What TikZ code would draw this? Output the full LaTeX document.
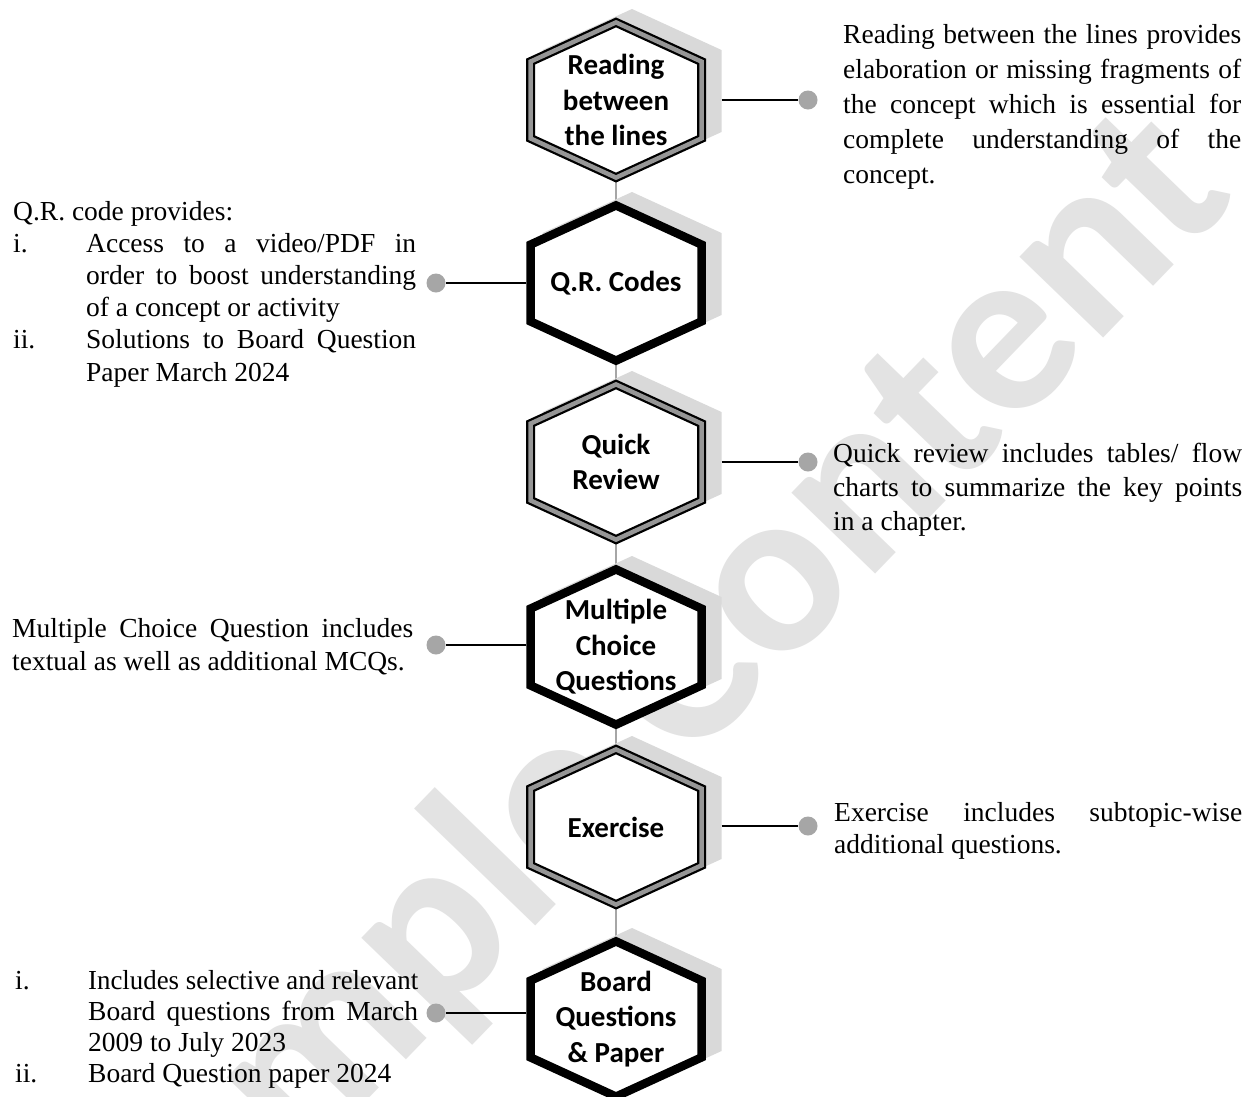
\documentclass[tikz,border=0pt]{standalone}
\usepackage{fontspec}
\usepackage{graphicx}
\setmainfont{Liberation Serif}
\newfontfamily\bodyfont{Liberation Serif}
\newfontfamily\labfont{Carlito}
\usetikzlibrary{calc}
\definecolor{shadowgray}{HTML}{D9D9D9}
\definecolor{wmgray}{HTML}{E3E3E3}
\definecolor{bandgray}{HTML}{969696}
\definecolor{dotgray}{HTML}{A6A6A6}
\newcommand\hexpath{(0,-77.6) -- (85.5,-38.4) -- (85.5,38.4) -- (0,77.6) -- (-85.5,38.4) -- (-85.5,-38.4) -- cycle}
\newcommand\hexouter{(0,-82) -- (89.5,-41) -- (89.5,41) -- (0,82) -- (-89.5,41) -- (-89.5,-41) -- cycle}
\newcommand\jl[1]{\makebox[\linewidth][s]{#1}}
\newcommand\lab[1]{\makebox[73pt][l]{#1}}
\tikzset{
  hexlabel/.style={minimum width=179pt, minimum height=164pt, inner sep=0pt, align=center,
    font={\labfont\bfseries\fontsize{29}{35.5}\selectfont}},
  hexshadow/.style={fill=shadowgray},
  hexthick/.style={draw=black, line width=8.5pt, fill=white},
  hexdblout/.style={draw=black, line width=9pt, fill=white},
  hexdblin/.style={draw=bandgray, line width=4.5pt},
  vline/.style={draw=dotgray, line width=2pt},
  hline/.style={draw=black, line width=2pt},
  dotnode/.style={circle, fill=dotgray, minimum size=19pt, inner sep=0pt},
  bodytext/.style={anchor=base west, inner sep=0pt},
  watermark/.style={text=wmgray, rotate=46, font={\labfont\bfseries\fontsize{240}{240}\selectfont}}
}
\begin{document}
\begin{tikzpicture}[x=1pt, y=-1pt]
\useasboundingbox (0,0) rectangle (1247,1096);
\fill[white] (0,0) rectangle (1247,1096);
\clip (0,0) rectangle (1247,1096);

% watermark
\node[watermark] (wm) at (642,722) {Sample Content};

% hexagon centres
\coordinate (c1) at (616,100);
\coordinate (c2) at (616,283);
\coordinate (c3) at (616,462);
\coordinate (c4) at (616,647);
\coordinate (c5) at (616,827);
\coordinate (c6) at (616,1019);

% vertical links (behind)
\draw[vline] (c1) -- (c6);

% shadows
\foreach \c in {c1,c2,c3,c4,c5,c6}{
  \fill[hexshadow, shift={(\c)}, shift={(16,-9)}] \hexouter;
}

% hexagons
\foreach \c in {c1,c3,c5}{
  \draw[hexdblout, shift={(\c)}] \hexpath;
  \draw[hexdblin, shift={(\c)}] \hexpath;
}
\foreach \c in {c2,c4,c6}{
  \draw[hexthick, shift={(\c)}] \hexpath;
}

% labels
\node[hexlabel] (h1) at (c1) {Reading\\between\\the lines};
\node[hexlabel] (h2) at (c2) {Q.R. Codes};
\node[hexlabel] (h3) at (c3) {Quick\\Review};
\node[hexlabel] (h4) at (c4) {Multiple\\Choice\\Questions};
\node[hexlabel] (h5) at (c5) {Exercise};
\node[hexlabel] (h6) at (c6) {Board\\Questions\\\& Paper};

% dots
\node[dotnode] (d1) at (808,100) {};
\node[dotnode] (d2) at (436,283) {};
\node[dotnode] (d3) at (808,462) {};
\node[dotnode] (d4) at (436,645) {};
\node[dotnode] (d5) at (808,826) {};
\node[dotnode] (d6) at (436,1013) {};

% connectors
\draw[hline] ([xshift=16pt]h1.east) -- (d1);
\draw[hline] (h2.west) -- (d2);
\draw[hline] ([xshift=16pt]h3.east) -- (d3);
\draw[hline] ([yshift=2pt]h4.west) -- (d4);
\draw[hline] ([xshift=16pt,yshift=1pt]h5.east) -- (d5);
\draw[hline] ([yshift=6pt]h6.west) -- (d6);

% texts
\node[bodytext] (t1) at (843,43) {\bodyfont\fontsize{27.5}{35}\selectfont\parbox[t]{398pt}{%
\jl{Reading between the lines provides}\\
\jl{elaboration or missing fragments of}\\
\jl{the concept which is essential for}\\
\jl{complete understanding of the}\\
concept.}};

\node[bodytext] (t2) at (13,220) {\bodyfont\fontsize{27.5}{32.2}\selectfont\parbox[t]{403pt}{%
Q.R. code provides:\\
\lab{i.}\makebox[330pt][s]{Access to a video/PDF in}\\
\hspace*{73pt}\makebox[330pt][s]{order to boost understanding}\\
\hspace*{73pt}of a concept or activity\\
\lab{ii.}\makebox[330pt][s]{Solutions to Board Question}\\
\hspace*{73pt}Paper March 2024}};

\node[bodytext] (t3) at (833,462) {\bodyfont\fontsize{27.5}{34}\selectfont\parbox[t]{409pt}{%
\jl{Quick review includes tables/ flow}\\
\jl{charts to summarize the key points}\\
in a chapter.}};

\node[bodytext] (t4) at (12,637) {\bodyfont\fontsize{27.5}{33}\selectfont\parbox[t]{401pt}{%
\jl{Multiple Choice Question includes}\\
textual as well as additional MCQs.}};

\node[bodytext] (t5) at (834,821) {\bodyfont\fontsize{27.5}{32}\selectfont\parbox[t]{408pt}{%
\jl{Exercise includes subtopic-wise}\\
additional questions.}};

\node[bodytext] (t6) at (15,989) {\bodyfont\fontsize{27.5}{31.3}\selectfont\parbox[t]{403pt}{%
\lab{i.}\resizebox{330pt}{\height}{Includes selective and relevant}\\
\hspace*{73pt}\makebox[330pt][s]{Board questions from March}\\
\hspace*{73pt}2009 to July 2023\\
\lab{ii.}Board Question paper 2024}};
\end{tikzpicture}
\end{document}
